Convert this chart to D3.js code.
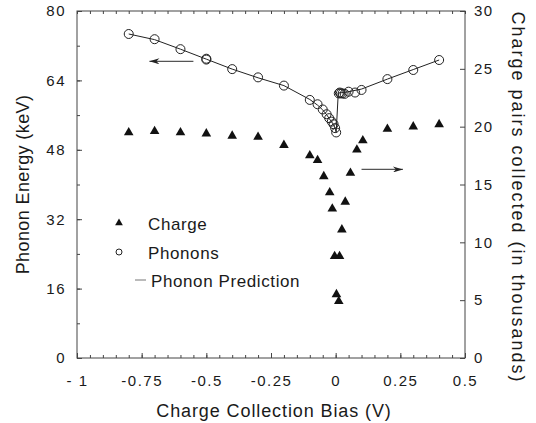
<!DOCTYPE html>
<html>
<head>
<meta charset="utf-8">
<script src="https://cdn.jsdelivr.net/npm/d3@7"></script>
<style>
body { margin: 0; background: #fff; }
svg { display: block; }
text { font-family: "Liberation Sans", Arial, sans-serif; fill: #1a1a1a; }
.tick text { font-size: 15px; letter-spacing: 1.5px; }
.domain, .tick line { stroke: #444; stroke-width: 1; }
</style>
</head>
<body>
<svg id="chart" width="536" height="423"></svg>
<script>
// Phonon energy (left axis, keV)
var phononBias   = [-0.8, -0.7, -0.6, -0.5, -0.5, -0.4, -0.3, -0.2, -0.1, -0.07, -0.05, -0.035, -0.025,
                    -0.015, -0.008, -0.002, 0.002, 0.012, 0.016, 0.02, 0.027, 0.035, 0.05, 0.075, 0.1,
                    0.2, 0.3, 0.4];
var phononEnergy = [74.7, 73.5, 71.2, 68.8, 69.0, 66.6, 64.7, 62.8, 59.5, 58.5, 57.3, 56.2, 55.3,
                    54.5, 53.9, 53.0, 52.0, 61.0, 61.2, 61.0, 61.0, 60.9, 61.4, 61.2, 61.8,
                    64.3, 66.4, 68.7];

// Phonon prediction curve (left axis)
var predBias   = [-0.8, -0.7, -0.6, -0.5, -0.4, -0.3, -0.2, -0.1, -0.07, -0.05, -0.035, -0.025, -0.015,
                  -0.008, -0.002, 0.002, 0.01, 0.03, 0.05, 0.1, 0.2, 0.3, 0.4];
var predEnergy = [74.7, 73.4, 71.2, 68.9, 66.6, 64.6, 62.8, 59.6, 58.3, 57.2, 56.1, 55.2, 54.4,
                  53.8, 52.9, 52.0, 61.1, 61.2, 61.4, 62.0, 64.3, 66.5, 68.7];

// Charge pairs collected (right axis, thousands)
var chargeBias  = [-0.8, -0.7, -0.6, -0.5, -0.4, -0.3, -0.2, -0.1, -0.07, -0.046, -0.023, -0.013,
                   -0.004, 0.015, 0.003, 0.012, 0.024, 0.037, 0.057, 0.082, 0.105, 0.2, 0.3, 0.4];
var chargePairs = [19.5, 19.6, 19.5, 19.4, 19.2, 19.1, 18.4, 17.5, 17.1, 15.7, 14.3, 12.9,
                   8.8, 8.8, 5.5, 4.9, 11.1, 13.5, 16.0, 18.0, 18.8, 19.8, 20.0, 20.2];

var xTicks = [-1, -0.75, -0.5, -0.25, 0, 0.25, 0.5];
var xTickLabels = ["- 1", "-0.75", "-0.5", "-0.25", "0", "0.25", "0.5"];
var leftTicks = [0, 16, 32, 48, 64, 80];
var rightTicks = [0, 5, 10, 15, 20, 25, 30];

var legendLabels = ["Charge", "Phonons", "Phonon Prediction"];

var svg = d3.select('#chart');
var L = 77, R = 465, T = 11, B = 358;

var x = d3.scaleLinear().domain([-1, 0.5]).range([L, R]);
var yL = d3.scaleLinear().domain([0, 80]).range([B, T]);
var yR = d3.scaleLinear().domain([0, 30]).range([B, T]);

// frame
svg.append('rect')
    .attr('x', L).attr('y', T)
    .attr('width', R - L).attr('height', B - T)
    .attr('fill', 'none').attr('stroke', '#444');

// minor ticks
var minorX = d3.range(-1, 0.5001, 0.05);
var minorY = d3.range(0, 80.01, 8);

svg.append('g').attr('transform', 'translate(0,' + B + ')')
    .call(d3.axisBottom(x).tickValues(minorX).tickSize(-3).tickFormat(''))
    .call(g => g.select('.domain').remove());
svg.append('g').attr('transform', 'translate(0,' + T + ')')
    .call(d3.axisTop(x).tickValues(minorX).tickSize(-3).tickFormat(''))
    .call(g => g.select('.domain').remove());
svg.append('g').attr('transform', 'translate(' + L + ',0)')
    .call(d3.axisLeft(yL).tickValues(minorY).tickSize(-3).tickFormat(''))
    .call(g => g.select('.domain').remove());

// major ticks + labels
svg.append('g').attr('transform', 'translate(0,' + B + ')')
    .call(d3.axisBottom(x).tickValues(xTicks).tickSize(-5).tickPadding(17)
        .tickFormat((d, i) => xTickLabels[i]))
    .call(g => g.select('.domain').remove());
svg.append('g').attr('transform', 'translate(' + L + ',0)')
    .call(d3.axisLeft(yL).tickValues(leftTicks).tickSize(-5).tickPadding(11))
    .call(g => g.select('.domain').remove());
svg.append('g').attr('transform', 'translate(' + R + ',0)')
    .call(d3.axisRight(yR).tickValues(rightTicks).tickSize(-5).tickPadding(9))
    .call(g => g.select('.domain').remove());

// axis titles
svg.append('text')
    .attr('x', (L + R) / 2 + 3).attr('y', 417)
    .attr('text-anchor', 'middle')
    .style('font-size', '18px').style('letter-spacing', '0.9px')
    .text('Charge Collection Bias (V)');
svg.append('text')
    .attr('transform', 'translate(29,' + ((T + B) / 2) + ') rotate(-90)')
    .attr('text-anchor', 'middle')
    .style('font-size', '18px').style('letter-spacing', '0.4px')
    .text('Phonon Energy (keV)');
svg.append('text')
    .attr('transform', 'translate(512,' + ((T + B) / 2 + 13) + ') rotate(90)')
    .attr('text-anchor', 'middle')
    .style('font-size', '18px').style('letter-spacing', '2px')
    .text('Charge pairs collected (in thousands)');

// prediction line
var line = d3.line().x(d => x(d[0])).y(d => yL(d[1]));
svg.append('path')
    .datum(d3.zip(predBias, predEnergy))
    .attr('d', line)
    .attr('fill', 'none').attr('stroke', '#222').attr('stroke-width', 1);

// phonon circles
svg.append('g').selectAll('circle')
    .data(d3.zip(phononBias, phononEnergy))
    .join('circle')
    .attr('cx', d => x(d[0])).attr('cy', d => yL(d[1]))
    .attr('r', 4.5)
    .attr('fill', 'none').attr('stroke', '#222').attr('stroke-width', 1);

// charge triangles
var tri = d3.symbol().type(d3.symbolTriangle).size(40);
svg.append('g').selectAll('path')
    .data(d3.zip(chargeBias, chargePairs))
    .join('path')
    .attr('d', tri)
    .attr('transform', d => 'translate(' + x(d[0]) + ',' + yR(d[1]) + ')')
    .attr('fill', '#111');

// arrows
var defs = svg.append('defs');
defs.append('marker')
    .attr('id', 'arrowhead')
    .attr('viewBox', '0 0 10 6')
    .attr('refX', 10).attr('refY', 3)
    .attr('markerWidth', 14).attr('markerHeight', 6)
    .attr('markerUnits', 'userSpaceOnUse')
    .attr('orient', 'auto')
    .append('path').attr('d', 'M0,0 L10,3 L0,6 L3,3 Z').attr('fill', '#222');

svg.append('line')
    .attr('x1', x(-0.55)).attr('y1', yL(68.4))
    .attr('x2', x(-0.72)).attr('y2', yL(68.4))
    .attr('stroke', '#555').attr('stroke-width', 1.2)
    .attr('marker-end', 'url(#arrowhead)');
svg.append('line')
    .attr('x1', x(0.1)).attr('y1', yR(16.3))
    .attr('x2', x(0.26)).attr('y2', yR(16.3))
    .attr('stroke', '#555').attr('stroke-width', 1.2)
    .attr('marker-end', 'url(#arrowhead)');

// legend
var legend = svg.append('g');
var legY = [224, 253, 281];
legend.append('path')
    .attr('d', d3.symbol().type(d3.symbolTriangle).size(26))
    .attr('transform', 'translate(119,' + (legY[0] - 1) + ')')
    .attr('fill', '#111');
legend.append('circle')
    .attr('cx', 119).attr('cy', legY[1] - 1).attr('r', 3)
    .attr('fill', 'none').attr('stroke', '#222');
legend.append('line')
    .attr('x1', 135).attr('x2', 146)
    .attr('y1', legY[2] - 1).attr('y2', legY[2] - 1)
    .attr('stroke', '#777');
legend.selectAll('text.leg')
    .data(legendLabels)
    .join('text')
    .attr('class', 'leg')
    .attr('x', (d, i) => i < 2 ? 148 : 151)
    .attr('y', (d, i) => legY[i] + 6)
    .style('font-size', '17px').style('letter-spacing', '0.6px')
    .text(d => d);
</script>
</body>
</html>
